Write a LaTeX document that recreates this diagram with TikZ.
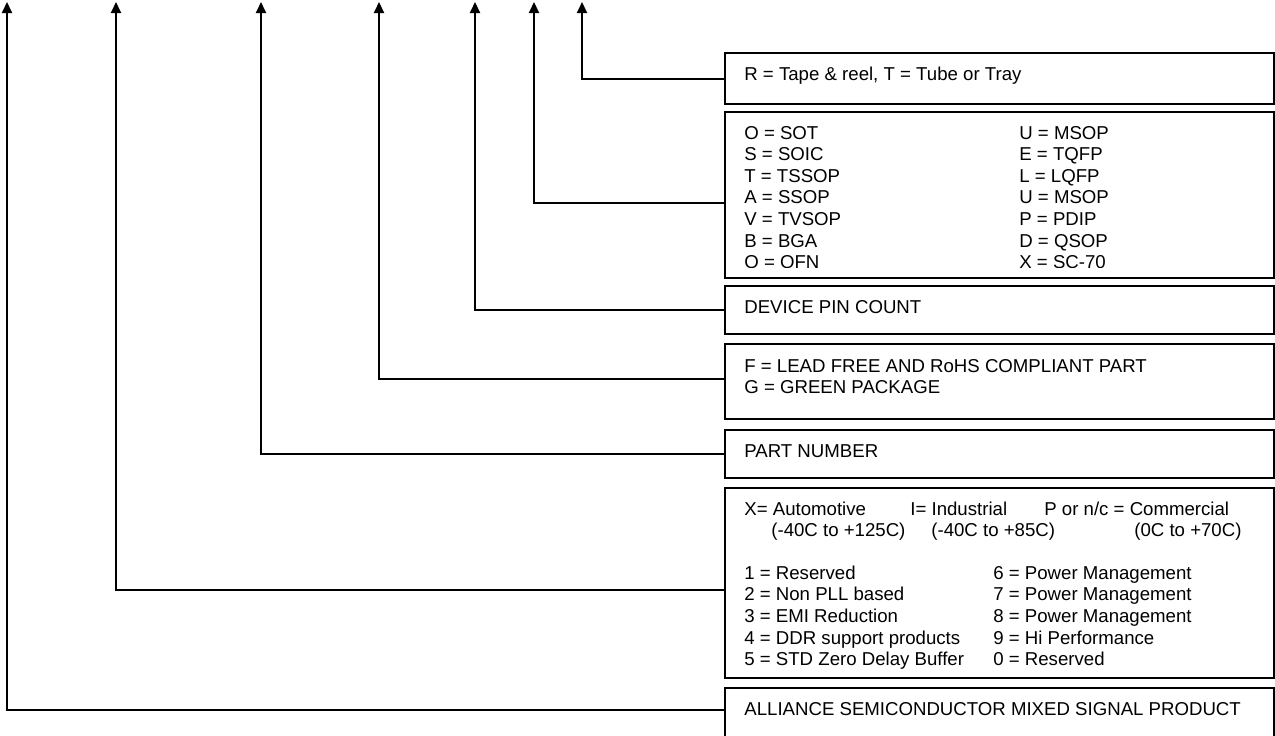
\documentclass[tikz,border=0pt]{standalone}
\usepackage{fontspec}
\setmainfont{Liberation Sans}
\usetikzlibrary{arrows.meta}

\begin{document}
\begin{tikzpicture}[
  x={(0.2mm,0mm)},
  y={(0mm,-0.2mm)},
  line join=miter,
  box/.style={draw=black,line width=1.2pt,anchor=north west,inner sep=0pt,minimum width=109.8mm},
  txt/.style={anchor=base west,inner sep=0pt,font=\fontsize{10.6}{12.3}\selectfont},
  lead/.style={draw=black,line width=1.2pt,-{Triangle[width=2mm,length=2.2mm]}}
]
  \clip (0,0) rectangle (1275,735);

  % Key boxes down the right-hand side.
  \node[box,minimum height=10.2mm] (reel) at (724,52) {};
  \node[box,minimum height=33.2mm] (pkg) at (724,111) {};
  \node[box,minimum height=9.6mm] (pins) at (724,285) {};
  \node[box,minimum height=15mm] (green) at (724,343) {};
  \node[box,minimum height=9.6mm] (part) at (724,429) {};
  \node[box,minimum height=38mm] (temp) at (724,487) {};
  \node[box,minimum height=12mm] (vendor) at (724,687) {};

  % Box texts, one node per printed line.
  \node[txt] (reeltxt) at (744,80) {R = Tape \& reel, T = Tube or Tray};
  \begin{scope}
    \clip (724,111) rectangle (1273,267);
    \foreach \s [count=\i] in {O = SOT,S = SOIC,T = TSSOP,A = SSOP,V = TVSOP,B = BGA,Q = QFN}
      \node[txt] (pkgA\i) at (744,{139+21.6*(\i-1)}) {\s};
    \foreach \s [count=\i] in {U = MSOP,E = TQFP,L = LQFP,U = MSOP,P = PDIP,D = QSOP,X = SC-70}
      \node[txt] (pkgB\i) at (1019,{139+21.6*(\i-1)}) {\s};
  \end{scope}
  \node[txt] (pinstxt) at (744,313) {DEVICE PIN COUNT};
  \node[txt] (greenA) at (744,372) {F = LEAD FREE AND RoHS COMPLIANT PART};
  \node[txt] (greenB) at (744,393.6) {G = GREEN PACKAGE};
  \node[txt] (parttxt) at (744,457) {PART NUMBER};
  \node[txt] (auto) at (744,515) {X= Automotive};
  \node[txt] (indus) at (910,515) {I= Industrial};
  \node[txt] (comm) at (1044,515) {P or n/c = Commercial};
  \node[txt] (autorange) at (771,536.5) {(-40C to +125C)};
  \node[txt] (indusrange) at (931,536.5) {(-40C to +85C)};
  \node[txt] (commrange) at (1134,536.5) {(0C to +70C)};
  \foreach \s [count=\i] in {1 = Reserved,2 = Non PLL based,3 = EMI Reduction,4 = DDR support products,5 = STD Zero Delay Buffer}
    \node[txt] (famA\i) at (744,{579+21.7*(\i-1)}) {\s};
  \foreach \s [count=\i] in {6 = Power Management,7 = Power Management,8 = Power Management,9 = Hi Performance,0 = Reserved}
    \node[txt] (famB\i) at (993,{579+21.7*(\i-1)}) {\s};
  \node[txt] (vendortxt) at (744,715) {ALLIANCE SEMICONDUCTOR MIXED SIGNAL PRODUCT};

  % Arrow tips along the top edge.
  \coordinate (tipreel) at (582,2);
  \coordinate (tippkg) at (534,2);
  \coordinate (tippins) at (475,2);
  \coordinate (tipgreen) at (379,2);
  \coordinate (tippart) at (261,2);
  \coordinate (tiptemp) at (116,2);
  \coordinate (tipvendor) at (7,2);

  % Leaders from each box up to its tip.
  \draw[lead] (reel.west) -| (tipreel);
  \draw[lead] ([yshift=-1.6mm]pkg.west) -| (tippkg);
  \draw[lead] (pins.west) -| (tippins);
  \draw[lead] ([yshift=0.6mm]green.west) -| (tipgreen);
  \draw[lead] (part.west) -| (tippart);
  \draw[lead] ([yshift=-1.4mm]temp.west) -| (tiptemp);
  \draw[lead] ([yshift=1.6mm]vendor.west) -| (tipvendor);
\end{tikzpicture}
\end{document}
